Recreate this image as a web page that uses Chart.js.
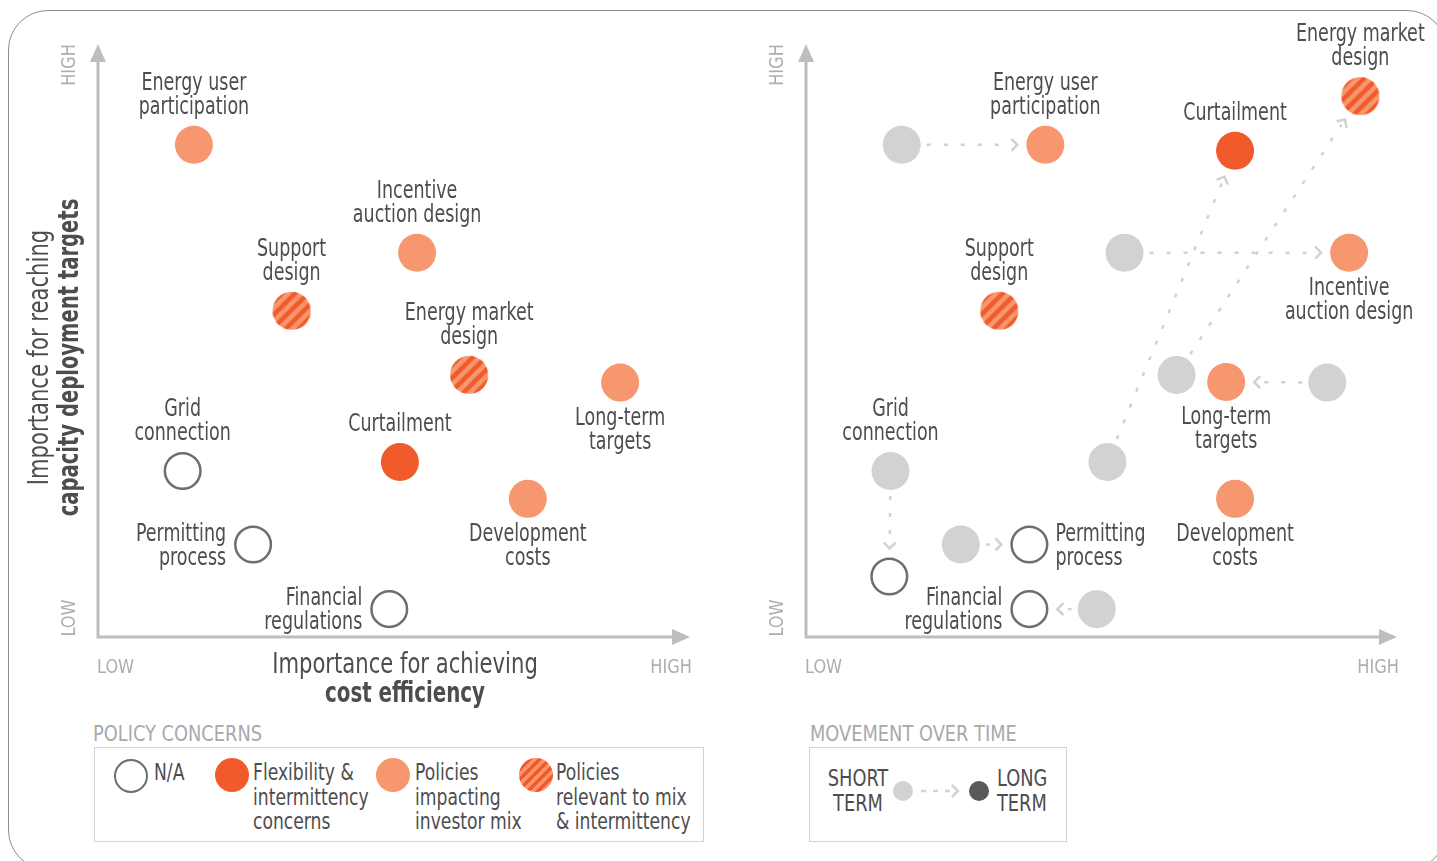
<!DOCTYPE html>
<html>
<head>
<meta charset="utf-8">
<title>Policy concerns</title>
<script src="https://cdn.jsdelivr.net/npm/chart.js@4.4.1/dist/chart.umd.min.js"></script>
<style>
  body { margin: 0; background: #fff; font-family: "DejaVu Sans Condensed", "DejaVu Sans", sans-serif; color: #4d4d4f; }
  #page { position: relative; width: 1437px; height: 861px; overflow: hidden; }
  #frame { position: absolute; left: 8px; top: 10px; width: 1439px; height: 860px; border: 1.5px solid #8c8c8c; border-radius: 40px; box-sizing: border-box; }
  canvas { position: absolute; top: 0; }
  .cap { position: absolute; font-size: 22px; line-height: 26px; color: #a7a9ac; white-space: nowrap; transform: scaleX(0.9); transform-origin: 0 0; }
  .box { position: absolute; border: 1.5px solid #d1d2d4; box-sizing: border-box; }
  .dot { position: absolute; border-radius: 50%; box-sizing: border-box; }
  .txt { position: absolute; font-size: 23px; line-height: 24.5px; white-space: nowrap; transform: scaleX(0.83); transform-origin: 0 0; }
  .striped { background: repeating-linear-gradient(135deg, #f15a2b 0 3.5px, #f7976f 3.5px 7px); }
</style>
</head>
<body>
<div id="page">
  <div id="frame"></div>
  <canvas id="leftChart" width="720" height="720" style="left:0"></canvas>
  <canvas id="rightChart" width="727" height="720" style="left:710px"></canvas>

  <!-- legend: policy concerns -->
  <div class="cap" style="left:93px; top:721px">POLICY CONCERNS</div>
  <div class="box" style="left:94px; top:747px; width:610px; height:95px"></div>
  <div class="dot" style="left:114px; top:759px; width:34px; height:34px; border:2.5px solid #6d6e71"></div>
  <div class="txt" style="left:154px; top:760px">N/A</div>
  <div class="dot" style="left:215px; top:758px; width:34px; height:34px; background:#f15a2b"></div>
  <div class="txt" style="left:253px; top:760px">Flexibility &amp;<br>intermittency<br>concerns</div>
  <div class="dot" style="left:376px; top:758px; width:34px; height:34px; background:#f7976f"></div>
  <div class="txt" style="left:415px; top:760px">Policies<br>impacting<br>investor mix</div>
  <div class="dot striped" style="left:519px; top:758px; width:34px; height:34px"></div>
  <div class="txt" style="left:556px; top:760px">Policies<br>relevant to mix<br>&amp; intermittency</div>

  <!-- legend: movement over time -->
  <div class="cap" style="left:810px; top:721px">MOVEMENT OVER TIME</div>
  <div class="box" style="left:809px; top:747px; width:258px; height:95px"></div>
  <div class="txt" style="left:818px; top:766px; width:80px; text-align:center; transform: scaleX(0.86); transform-origin: 50% 0">SHORT<br>TERM</div>
  <div class="dot" style="left:893px; top:781px; width:20px; height:20px; background:#d1d2d4"></div>
  <svg style="position:absolute; left:913px; top:781px" width="56" height="20">
    <line x1="8" y1="10" x2="38" y2="10" stroke="#d1d2d4" stroke-width="2.5" stroke-dasharray="5 7"/>
    <polyline points="39,4 45,10 39,16" fill="none" stroke="#d1d2d4" stroke-width="2.5"/>
  </svg>
  <div class="dot" style="left:969px; top:781px; width:20px; height:20px; background:#58595b"></div>
  <div class="txt" style="left:997px; top:766px; transform: scaleX(0.86)">LONG<br>TERM</div>
</div>

<script>
// Policies, as they are labelled on the chart
const policies = [
  ['Energy user', 'participation'],
  ['Incentive', 'auction design'],
  ['Support', 'design'],
  ['Energy market', 'design'],
  ['Long-term', 'targets'],
  ['Grid', 'connection'],
  ['Curtailment'],
  ['Development', 'costs'],
  ['Permitting', 'process'],
  ['Financial', 'regulations']
];
const concern = ['mix', 'mix', 'both', 'both', 'mix', 'na', 'flex', 'mix', 'na', 'na'];

// importance scores, 0 = low, 100 = high
const shortCost    = [16.2, 53.9, 32.7, 62.7, 88.2, 14.3, 51.0, 72.6, 26.2, 49.2];
const shortTargets = [83.0, 64.8, 55.0, 44.2, 42.9, 28.0, 29.5, 23.3, 15.6, 4.7];
const longCost     = [40.5, 91.9, 32.7, 93.8, 71.1, 14.1, 72.6, 72.6, 37.8, 37.8];
const longTargets  = [83.0, 64.8, 55.0, 91.2, 43.0, 10.2, 82.0, 23.3, 15.6, 4.7];

const axisEnds = ['LOW', 'HIGH'];
const xTitle = ['Importance for achieving', 'cost efficiency'];
const yTitle = ['Importance for reaching', 'capacity deployment targets'];

// where each label sits relative to its dot
const leftPlace  = ['above', 'above', 'above', 'above', 'below', 'above', 'above', 'below', 'left', 'left'];
const rightPlace = ['above', 'below', 'above', 'above', 'below', 'above', 'above', 'below', 'right', 'left'];
const rightLabelOn = ['long', 'long', 'long', 'long', 'long', 'short', 'long', 'long', 'long', 'long'];

const FONT = '"DejaVu Sans Condensed", "DejaVu Sans", sans-serif';
const TEXT = '#4d4d4f';
const R = 19;

// the original face is narrower than anything installed, so squeeze it a little
function narrowText(ctx, text, x, y, sx) {
  ctx.save();
  ctx.translate(x, y);
  ctx.scale(sx, 1);
  ctx.fillText(text, 0, 0);
  ctx.restore();
}

function stripedDot(r) {
  const c = document.createElement('canvas');
  const s = Math.ceil(r * 2) + 2;
  c.width = s; c.height = s;
  const g = c.getContext('2d');
  g.beginPath();
  g.arc(s / 2, s / 2, r, 0, Math.PI * 2);
  g.fillStyle = '#f7976f';
  g.fill();
  g.save();
  g.clip();
  g.strokeStyle = '#f15a2b';
  g.lineWidth = 4.5;
  for (let k = -s; k < 2 * s; k += 13) {
    g.beginPath(); g.moveTo(k, s); g.lineTo(k + s, 0); g.stroke();
  }
  g.restore();
  return c;
}
const stripes = stripedDot(R);

const styles = {
  na:   { pointRadius: 17.8, borderWidth: 2.5, borderColor: '#6d6e71', backgroundColor: 'rgba(255,255,255,0)' },
  flex: { pointRadius: R, borderWidth: 0, backgroundColor: '#f15a2b' },
  mix:  { pointRadius: R, borderWidth: 0, backgroundColor: '#f7976f' },
  both: { pointRadius: R, borderWidth: 0, pointStyle: stripes }
};

function concernSets(cost, targets) {
  return ['na', 'flex', 'mix', 'both'].map(type => Object.assign({
    label: type,
    clip: false,
    data: policies.map((p, i) => i).filter(i => concern[i] === type)
      .map(i => ({ x: cost[i], y: targets[i] }))
  }, styles[type]));
}

function moved(i) {
  return shortCost[i] !== longCost[i] || shortTargets[i] !== longTargets[i];
}

function drawMove(ctx, x1, y1, x2, y2) {
  const len = Math.hypot(x2 - x1, y2 - y1);
  const ux = (x2 - x1) / len, uy = (y2 - y1) / len;
  const sx = x1 + ux * (R + 6), sy = y1 + uy * (R + 6);
  const tx = x2 - ux * (R + 9), ty = y2 - uy * (R + 9);
  const ex = tx - ux * 6, ey = ty - uy * 6;
  ctx.strokeStyle = '#d1d2d4';
  ctx.lineWidth = 2.5;
  ctx.setLineDash([4, 13]);
  ctx.beginPath();
  ctx.moveTo(sx, sy);
  ctx.lineTo(ex, ey);
  ctx.stroke();
  ctx.setLineDash([]);
  const a = 6;
  ctx.beginPath();
  ctx.moveTo(tx - ux * a - uy * a, ty - uy * a + ux * a);
  ctx.lineTo(tx, ty);
  ctx.lineTo(tx - ux * a + uy * a, ty - uy * a - ux * a);
  ctx.stroke();
}

function drawLabel(ctx, lines, x, y, place) {
  ctx.font = '24px ' + FONT;
  ctx.fillStyle = TEXT;
  ctx.textBaseline = 'middle';
  const lh = 24;
  lines.forEach((line, k) => {
    let tx = x, ty;
    if (place === 'above') {
      ctx.textAlign = 'center';
      ty = y - 37 - (lines.length - 1 - k) * lh;
    } else if (place === 'below') {
      ctx.textAlign = 'center';
      ty = y + 36 + k * lh;
    } else {
      ctx.textAlign = place === 'left' ? 'right' : 'left';
      tx = place === 'left' ? x - 27 : x + 26;
      ty = y - 10 + k * lh;
    }
    narrowText(ctx, line, tx, ty, 0.81);
  });
}

const panelDecor = {
  id: 'panelDecor',
  beforeDatasetsDraw(chart, args, opts) {
    const ctx = chart.ctx;
    const { left, top, right, bottom } = chart.chartArea;
    ctx.save();
    // axes with arrow heads
    ctx.strokeStyle = '#bcbec0';
    ctx.fillStyle = '#bcbec0';
    ctx.lineWidth = 3;
    ctx.beginPath();
    ctx.moveTo(left, bottom + 1.5);
    ctx.lineTo(left, top + 14);
    ctx.moveTo(left, bottom);
    ctx.lineTo(right - 14, bottom);
    ctx.stroke();
    ctx.beginPath();
    ctx.moveTo(left, top); ctx.lineTo(left - 8, top + 18); ctx.lineTo(left + 8, top + 18);
    ctx.closePath(); ctx.fill();
    ctx.beginPath();
    ctx.moveTo(right, bottom); ctx.lineTo(right - 18, bottom - 8); ctx.lineTo(right - 18, bottom + 8);
    ctx.closePath(); ctx.fill();

    // LOW / HIGH ends
    ctx.font = '20px ' + FONT;
    ctx.fillStyle = '#acaeb1';
    ctx.textBaseline = 'middle';
    ctx.textAlign = 'left';
    narrowText(ctx, axisEnds[0], left - 1, bottom + 31, 0.9);
    ctx.textAlign = 'right';
    narrowText(ctx, axisEnds[1], right + 2, bottom + 31, 0.9);
    ctx.save();
    ctx.translate(left - 28, top + 21);
    ctx.rotate(-Math.PI / 2);
    ctx.textAlign = 'center';
    narrowText(ctx, axisEnds[1], 0, 0, 0.9);
    ctx.restore();
    ctx.save();
    ctx.translate(left - 28, bottom - 19);
    ctx.rotate(-Math.PI / 2);
    ctx.textAlign = 'center';
    narrowText(ctx, axisEnds[0], 0, 0, 0.9);
    ctx.restore();

    // movement arrows
    if (opts.arrows) {
      const xs = chart.scales.x, ys = chart.scales.y;
      policies.forEach((p, i) => {
        if (!moved(i)) return;
        drawMove(ctx,
          xs.getPixelForValue(shortCost[i]), ys.getPixelForValue(shortTargets[i]),
          xs.getPixelForValue(longCost[i]), ys.getPixelForValue(longTargets[i]));
      });
    }
    ctx.restore();
  },
  afterDatasetsDraw(chart, args, opts) {
    const ctx = chart.ctx;
    const { left, top, right, bottom } = chart.chartArea;
    const xs = chart.scales.x, ys = chart.scales.y;
    ctx.save();
    policies.forEach((lines, i) => {
      const onShort = opts.labelOn[i] === 'short';
      const cx = onShort ? shortCost[i] : opts.cost[i];
      const cy = onShort ? shortTargets[i] : opts.targets[i];
      drawLabel(ctx, lines, xs.getPixelForValue(cx), ys.getPixelForValue(cy), opts.place[i]);
    });
    if (opts.titles) {
      ctx.fillStyle = TEXT;
      ctx.textAlign = 'center';
      ctx.textBaseline = 'middle';
      const cx = (left + right) / 2 + 11;
      ctx.font = '29px ' + FONT;
      narrowText(ctx, xTitle[0], cx, bottom + 28, 0.81);
      ctx.font = 'bold 29px ' + FONT;
      narrowText(ctx, xTitle[1], cx, bottom + 57, 0.76);
      const cy = (top + bottom) / 2 + 17;
      ctx.save();
      ctx.translate(left - 58, cy);
      ctx.rotate(-Math.PI / 2);
      ctx.font = '29px ' + FONT;
      narrowText(ctx, yTitle[0], 0, 0, 0.81);
      ctx.restore();
      ctx.save();
      ctx.translate(left - 28, cy);
      ctx.rotate(-Math.PI / 2);
      ctx.font = 'bold 29px ' + FONT;
      narrowText(ctx, yTitle[1], 0, 0, 0.75);
      ctx.restore();
    }
    ctx.restore();
  }
};

function panelOptions(padding, decor) {
  return {
    responsive: false,
    animation: false,
    events: [],
    layout: { padding: padding },
    scales: {
      x: { type: 'linear', min: 0, max: 100, display: false },
      y: { type: 'linear', min: 0, max: 100, display: false }
    },
    plugins: {
      legend: { display: false },
      tooltip: { enabled: false },
      panelDecor: decor
    }
  };
}

// short term view
new Chart(document.getElementById('leftChart'), {
  type: 'scatter',
  data: { datasets: concernSets(shortCost, shortTargets) },
  options: panelOptions({ left: 98, top: 44, right: 30, bottom: 83 }, {
    arrows: false, titles: true, place: leftPlace,
    labelOn: policies.map(() => 'long'), cost: shortCost, targets: shortTargets
  }),
  plugins: [panelDecor]
});

// movement from short term to long term
const greySet = {
  label: 'short term',
  clip: false,
  pointRadius: R,
  borderWidth: 0,
  backgroundColor: '#d1d2d4',
  data: policies.map((p, i) => i).filter(moved).map(i => ({ x: shortCost[i], y: shortTargets[i] }))
};
new Chart(document.getElementById('rightChart'), {
  type: 'scatter',
  data: { datasets: [greySet].concat(concernSets(longCost, longTargets)) },
  options: panelOptions({ left: 96, top: 44, right: 40, bottom: 83 }, {
    arrows: true, titles: false, place: rightPlace,
    labelOn: rightLabelOn, cost: longCost, targets: longTargets
  }),
  plugins: [panelDecor]
});
</script>
</body>
</html>
